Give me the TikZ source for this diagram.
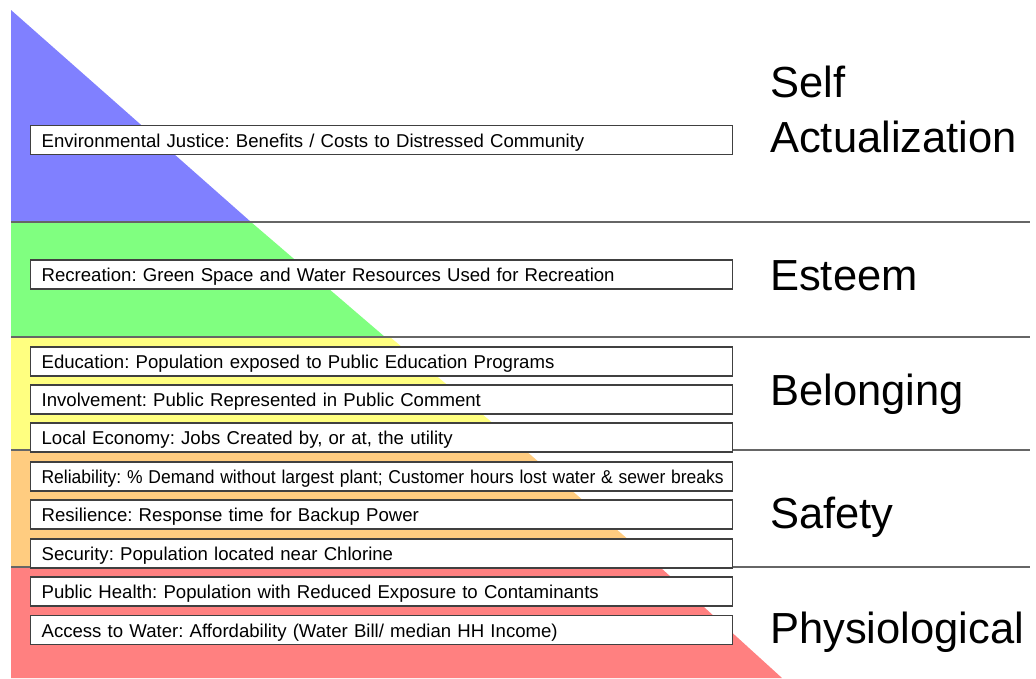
\documentclass[tikz,border=0pt]{standalone}
\usepackage{graphicx}
\usepackage{fontspec}
\setmainfont{Liberation Sans}
\definecolor{bandblue}{RGB}{128,128,255}
\definecolor{bandgreen}{RGB}{128,255,128}
\definecolor{bandyellow}{RGB}{255,255,128}
\definecolor{bandorange}{RGB}{255,204,128}
\definecolor{bandred}{RGB}{255,128,128}
\begin{document}
\frenchspacing
\begin{tikzpicture}[x=1pt,y=-1pt,
    item/.style={draw=black!75,line width=1.2pt,fill=white,anchor=west,
      text width=680pt,inner xsep=11pt,inner ysep=0pt,minimum height=29pt,
      text height=14pt,text depth=0pt,align=left,
      font=\fontsize{18.6}{22}\selectfont},
    level/.style={anchor=base west,inner sep=0pt,font=\fontsize{43.5}{50}\selectfont},
    sep/.style={draw=black!60,line width=2pt}]
    \useasboundingbox (0,0) rectangle (1036,678);
    % bands of the pyramid
    \fill[bandblue] (11,10) -- (251,222) -- (11,222) -- cycle;
    \fill[bandgreen] (11,222) -- (251,222) -- (385,337) -- (11,337) -- cycle;
    \fill[bandyellow] (11,337) -- (390,337) -- (525,450) -- (11,450) -- cycle;
    \fill[bandorange] (11,450) -- (525,450) -- (660,567) -- (11,567) -- cycle;
    \fill[bandred] (11,567) -- (660,567) -- (782,678) -- (11,678) -- cycle;
    \draw[sep] (11,222) -- (1030,222);
    \draw[sep] (11,337) -- (1030,337);
    \draw[sep] (11,450) -- (1030,450);
    \draw[sep] (11,567) -- (1030,567);
    % measures
    \node[item](ej) at (30,140)  {Environmental Justice: Benefits / Costs to Distressed Community};
    \node[item](rec) at (30,274.5)  {Recreation: Green Space and Water Resources Used for Recreation};
    \node[item](edu) at (30,361.5)  {Education: Population exposed to Public Education Programs};
    \node[item](inv) at (30,399.5)  {Involvement: Public Represented in Public Comment};
    \node[item](loc) at (30,437.5)  {Local Economy: Jobs Created by, or at, the utility};
    \node[item](rel) at (30,476.5)  {\scalebox{0.94}[1]{Reliability: \% Demand without largest plant; Customer hours lost water \& sewer breaks}};
    \node[item](res) at (30,514.5)  {Resilience: Response time for Backup Power};
    \node[item](sec) at (30,553.5)  {Security: Population located near Chlorine};
    \node[item](ph) at (30,591.5)  {Public Health: Population with Reduced Exposure to Contaminants};
    \node[item](acc) at (30,630)  {Access to Water: Affordability (Water Bill/ median HH Income)};
    % levels
    \node[level](self) at (770,97)  {Self};
    \node[level](act) at (770,152)  {Actualization};
    \node[level](est) at (770,290)  {Esteem};
    \node[level](bel) at (770,405)  {Belonging};
    \node[level](saf) at (770,528)  {Safety};
    \node[level](phy) at (770,643)  {Physiological};
\end{tikzpicture}
\end{document}
